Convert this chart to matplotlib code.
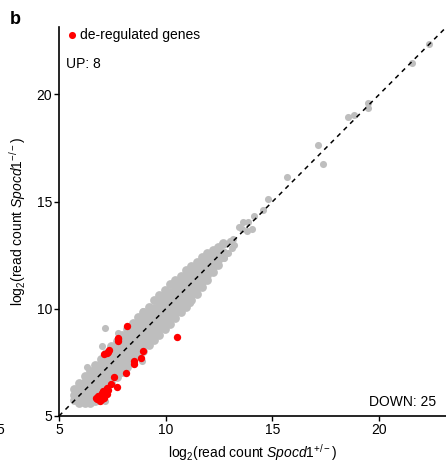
import matplotlib
matplotlib.use("Agg")
import matplotlib.pyplot as plt
import numpy as np

plt.rcParams["font.family"] = ["Liberation Sans", "DejaVu Sans"]
plt.rcParams["mathtext.fontset"] = "custom"
plt.rcParams["mathtext.rm"] = "Liberation Sans"
plt.rcParams["mathtext.it"] = "Liberation Sans:italic"

# dense gray cloud, read column by column (x: y values)
band_cols = [
    (5.70, [5.75, 6.00, 6.25]),
    (5.95, [5.60, 5.85, 6.10, 6.35, 6.55]),
    (6.20, [5.60, 5.85, 6.10, 6.35, 6.60, 6.85]),
    (6.45, [5.60, 5.85, 6.10, 6.35, 6.60, 6.85, 7.10]),
    (6.70, [5.70, 5.95, 6.20, 6.45, 6.70, 6.95, 7.20, 7.40]),
    (6.95, [5.95, 6.20, 6.45, 6.70, 6.95, 7.20, 7.45, 7.65]),
    (7.20, [6.25, 6.50, 6.75, 7.00, 7.25, 7.50, 7.75, 7.95]),
    (7.45, [6.55, 6.80, 7.05, 7.30, 7.55, 7.80, 8.05, 8.25]),
    (7.70, [6.80, 7.05, 7.30, 7.55, 7.80, 8.05, 8.30, 8.50]),
    (7.95, [7.05, 7.30, 7.55, 7.80, 8.05, 8.30, 8.55, 8.80]),
    (8.20, [7.30, 7.55, 7.80, 8.05, 8.30, 8.55, 8.80, 9.05]),
    (8.45, [7.55, 7.80, 8.05, 8.30, 8.55, 8.80, 9.05, 9.35]),
    (8.70, [7.80, 8.05, 8.30, 8.55, 8.80, 9.05, 9.30, 9.60]),
    (8.95, [8.05, 8.30, 8.55, 8.80, 9.05, 9.30, 9.55, 9.85]),
    (9.20, [8.30, 8.55, 8.80, 9.05, 9.30, 9.55, 9.80, 10.10]),
    (9.45, [8.55, 8.80, 9.05, 9.30, 9.55, 9.80, 10.05, 10.40]),
    (9.70, [8.80, 9.05, 9.30, 9.55, 9.80, 10.05, 10.30, 10.65]),
    (9.95, [9.05, 9.30, 9.55, 9.80, 10.05, 10.30, 10.55, 10.90]),
    (10.20, [9.30, 9.55, 9.80, 10.05, 10.30, 10.55, 10.80, 11.15]),
    (10.45, [9.55, 9.80, 10.05, 10.30, 10.55, 10.80, 11.05, 11.35]),
    (10.70, [9.85, 10.10, 10.35, 10.60, 10.85, 11.10, 11.35, 11.55]),
    (10.95, [10.10, 10.35, 10.60, 10.85, 11.10, 11.35, 11.60, 11.80]),
    (11.20, [10.40, 10.65, 10.90, 11.15, 11.40, 11.65, 11.90, 12.00]),
    (11.45, [10.70, 10.95, 11.20, 11.45, 11.70, 11.95, 12.20]),
    (11.70, [11.00, 11.25, 11.50, 11.75, 12.00, 12.25, 12.40]),
    (11.95, [11.35, 11.60, 11.85, 12.10, 12.35, 12.60]),
    (12.20, [11.70, 11.95, 12.20, 12.45, 12.75]),
    (12.45, [12.05, 12.30, 12.55, 12.90]),
    (12.70, [12.40, 12.65, 13.05]),
]

# scattered gray genes outside the dense band
gray_x = [12.64, 12.78, 12.90, 13.10, 12.75, 13.20, 13.00, 13.16, 13.44, 13.58,
          13.60, 13.86, 13.80, 14.05, 14.14, 14.56, 14.80, 15.67, 17.14, 17.38,
          18.55, 18.83, 19.49, 19.49, 21.55, 22.35,
          7.16, 7.77, 7.02, 6.31, 7.16, 8.95, 8.89, 11.14]
gray_y = [13.04, 13.04, 12.60, 12.85, 12.35, 13.00, 13.18, 13.27, 13.83, 13.74,
          14.07, 14.07, 13.64, 13.74, 14.35, 14.63, 15.14, 16.15, 17.64, 16.78,
          18.97, 19.02, 19.58, 19.35, 21.45, 22.34,
          9.11, 8.88, 8.27, 7.29, 5.68, 9.90, 7.57, 10.27]

# de-regulated genes (8 up, 25 down)
red_x = [8.17, 7.75, 7.78, 7.36, 7.24, 7.12, 7.76, 7.30,
         10.52, 8.95, 8.84, 8.53, 8.53, 8.13, 7.59, 7.44, 7.73, 7.24, 7.31, 7.00,
         7.16, 6.84, 6.73, 7.00, 7.08, 7.24, 6.92, 6.95, 7.10, 6.80, 7.20, 6.90, 7.05]
red_y = [9.21, 8.66, 8.50, 8.08, 7.92, 7.89, 8.58, 8.00,
         8.69, 8.04, 7.71, 7.57, 7.44, 7.00, 6.82, 6.51, 6.37, 6.32, 6.20, 6.09,
         6.09, 5.93, 5.86, 5.78, 5.93, 6.01, 5.70, 6.00, 5.85, 5.80, 6.20, 5.90, 6.15]

n_up, n_down = 8, 25
ticks = [5, 10, 15, 20]

bx = [x for x, ys in band_cols for _ in ys]
by = [y for _, ys in band_cols for y in ys]

fig = plt.figure(figsize=(4.46, 4.70), dpi=100)
ax = fig.add_axes([0.1323, 0.1149, 0.8677, 0.8277])

ax.scatter(bx, by, s=40, color="#BEBEBE", linewidths=0, zorder=2)
ax.scatter(gray_x, gray_y, s=26, color="#BEBEBE", linewidths=0, zorder=2)
ax.axline((5, 5), slope=1, color="black", lw=1.1, dashes=(3, 3), zorder=3)
ax.scatter(red_x, red_y, s=28, color="#FF0000", linewidths=0, zorder=4)

ax.set_xlim(5, 23.13)
ax.set_ylim(5, 23.15)
ax.set_xticks(ticks)
ax.set_yticks(ticks)
for s in ["top", "right"]:
    ax.spines[s].set_visible(False)
for s in ["left", "bottom"]:
    ax.spines[s].set_linewidth(1.2)
ax.tick_params(direction="out", length=3.5, width=1.0, pad=1.5, labelsize=10)

ax.text(0.5, -0.093, r"log$_2$(read count $\it{Spocd1}^{+/-}$)", transform=ax.transAxes,
        ha="center", va="center", fontsize=10)
ax.text(-0.106, 0.5, r"log$_2$(read count $\it{Spocd1}^{-/-}$)", transform=ax.transAxes,
        ha="center", va="center", rotation=90, fontsize=10)

fig.text(10 / 446, 1 - 20 / 470, "b", fontsize=13, fontweight="bold", va="center")
ax.scatter([0.034], [0.98], s=26, color="#FF0000", linewidths=0, transform=ax.transAxes, clip_on=False)
ax.text(0.053, 0.98, "de-regulated genes", transform=ax.transAxes, va="center", fontsize=10)
ax.text(0.018, 0.905, f"UP: {n_up}", transform=ax.transAxes, va="center", fontsize=10)
ax.text(0.975, 0.035, f"DOWN: {n_down}", transform=ax.transAxes, va="center", ha="right", fontsize=10)
fig.text(-4 / 446, 1 - 430 / 470, "5", fontsize=10, va="center")

fig.savefig("out.png", dpi=100)
plt.close()
